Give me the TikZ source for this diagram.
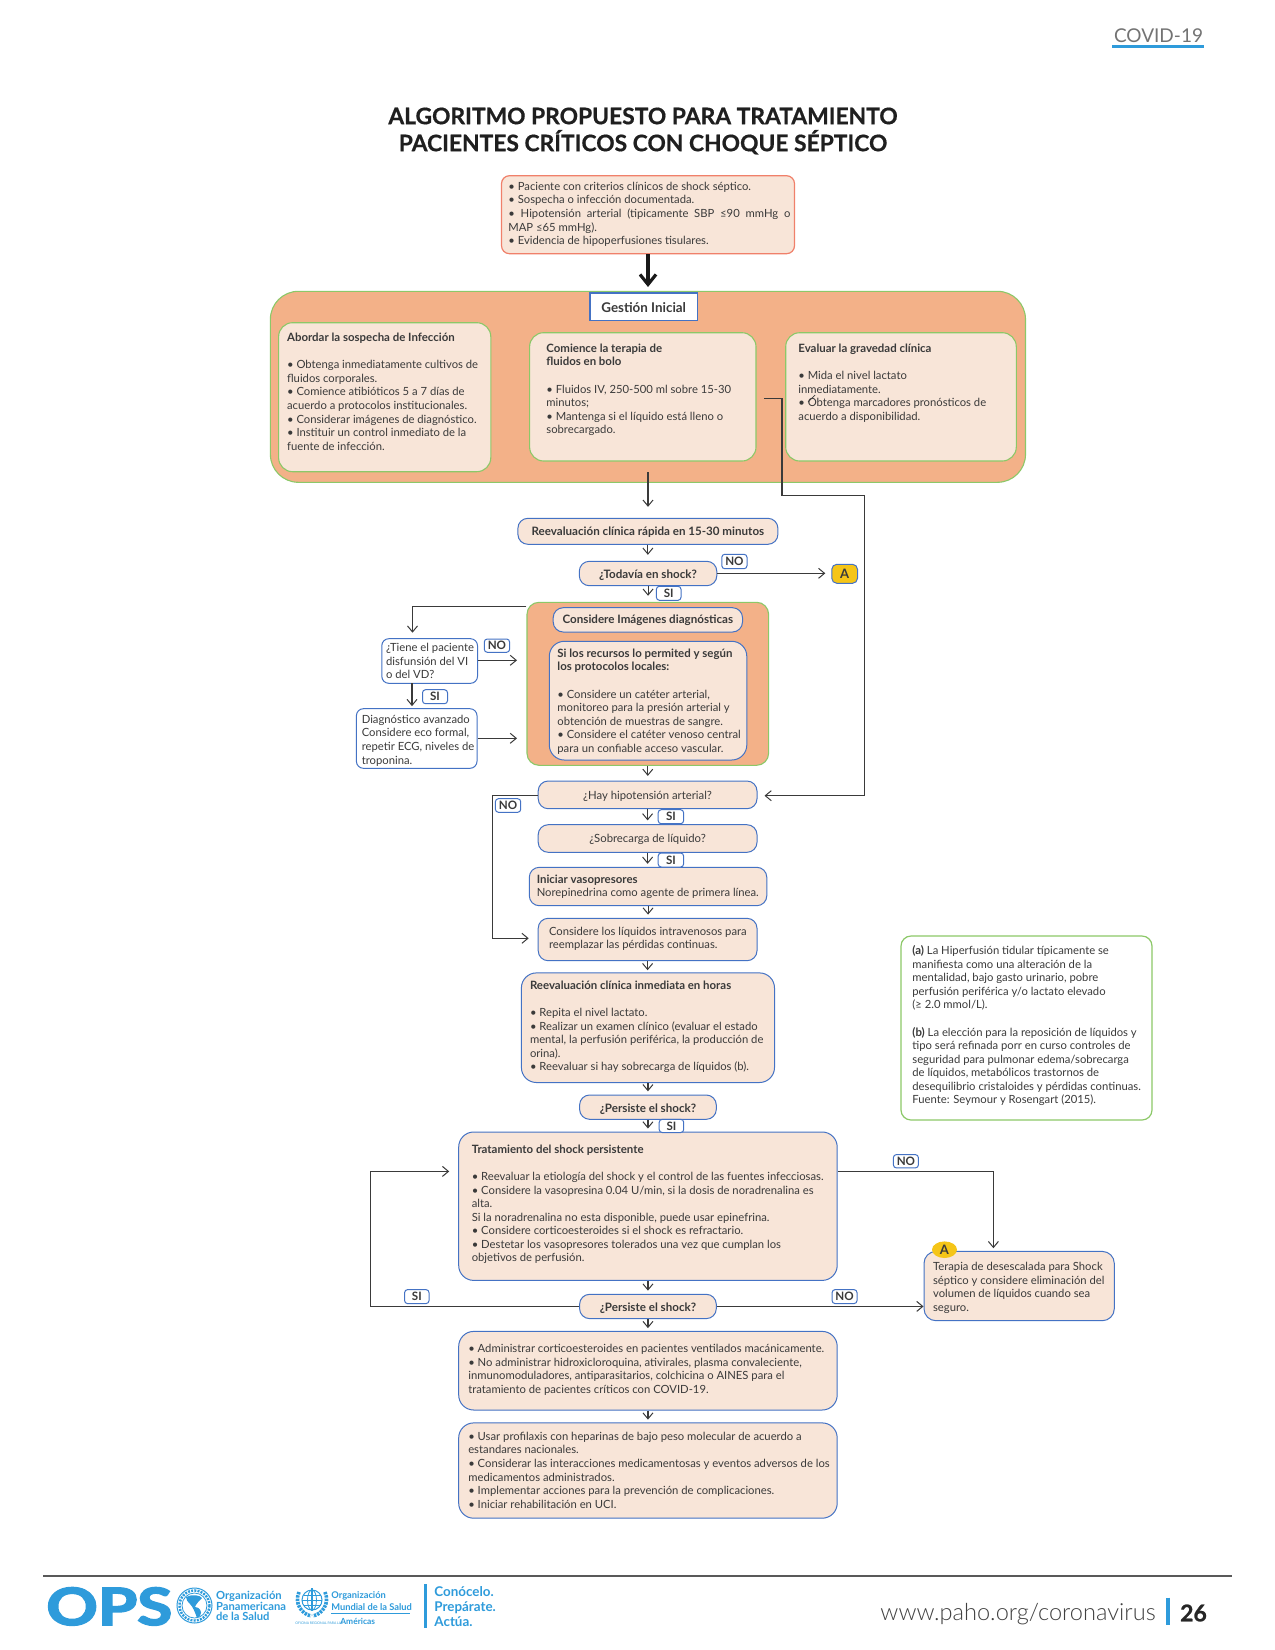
\documentclass[tikz,border=0pt]{standalone}
\usepackage{fontspec}
\usepackage{graphicx}
\setmainfont{Lato}
\newfontfamily\lightfont{Lato Light}
\usetikzlibrary{arrows.meta,shapes.geometric}
\definecolor{peach}{HTML}{F8E5D8}
\definecolor{orng}{HTML}{F3B188}
\definecolor{grn}{HTML}{8CC868}
\definecolor{blu}{HTML}{4472C4}
\definecolor{redb}{HTML}{F0806A}
\definecolor{yel}{HTML}{F5C518}
\definecolor{ink}{HTML}{3A3A3A}
\definecolor{opsb}{HTML}{2E9BDB}
% name, style, x1, y1, x2, y2, text
\newcommand{\bx}[7]{\node[#2,inner sep=0pt,minimum width={(#5-#3)*0.5pt},minimum height={(#6-#4)*0.5pt}] (#1) at ({(#3+#5)/2},{(#4+#6)/2}) {#7};}
% name, x, first baseline, lines
\newcommand{\para}[4]{\node[para] (#1) at (#2,{#3-9.5}) {\strut #4};}
\newcommand{\bt}[1]{{\fontsize{5.72}{6.78}\selectfont\bfseries #1}}
\newcommand{\dn}[2]{\raisebox{-#1}[\height][\depth]{#2}}
\tikzset{
 x=0.5pt,y=-0.5pt,
 box/.style={draw=blu,fill=peach,line width=0.5pt,rounded corners=5pt},
 rbox/.style={box,rounded corners=7.5pt},
 wbox/.style={box,fill=white,rounded corners=3.5pt},
 gbox/.style={draw=grn,fill=peach,line width=0.55pt,rounded corners=7pt},
 obox/.style={draw=grn,fill=orng,line width=0.55pt},
 tag/.style={draw=blu,fill=white,line width=0.5pt,rounded corners=1.5pt,font=\fontsize{5.8}{6.8}\selectfont\bfseries,text=ink,inner sep=0pt},
 para/.style={anchor=north west,inner sep=0pt,align=left,text=ink,font=\fontsize{5.63}{6.78}\selectfont},
 ctr/.style={text=ink,font=\fontsize{5.66}{6.78}\selectfont},
 bctr/.style={ctr,font=\fontsize{5.8}{6.78}\selectfont\bfseries},
 conn/.style={draw=ink,line width=0.55pt,-{Straight Barb[length=3pt,width=5pt,line width=0.5pt]},shorten >=1.6pt},
 foot/.style={inner sep=0pt,anchor=base west,text=opsb,font=\bfseries},
}
\begin{document}
\begin{tikzpicture}
\useasboundingbox (0,0) rectangle (1275,1650);
\fill[white] (0,0) rectangle (1275,1650);
% header
\node[inner sep=0pt,text=black!55,font=\fontsize{9.5}{12}\selectfont] (hdr) at (1158.5,36) {COVID-19};
\draw[opsb,line width=1.35pt] (1112,46.3) -- (1204,46.3);
% title
\node[inner sep=0pt,text=black!88,align=center,font=\fontsize{11.4}{13.5}\selectfont\bfseries\addfontfeature{FakeBold=0.6}] (title) at (643,131) {ALGORITMO PROPUESTO PARA TRATAMIENTO\\PACIENTES CRÍTICOS CON CHOQUE SÉPTICO};
% top
\bx{top}{draw=redb,fill=peach,line width=0.6pt,rounded corners=4pt}{501.5}{175.7}{794.5}{253.7}{}
\para{topt}{508}{190}{• Paciente con criterios clínicos de shock séptico.\\• Sospecha o infección documentada.\\\makebox[141pt][s]{• Hipotensión arterial (tipicamente SBP ≤90 mmHg o}\\MAP ≤65 mmHg).\\• Evidencia de hipoperfusiones tisulares.}
% gestion
\bx{gi}{obox,rounded corners=14pt}{270.4}{291.3}{1025.5}{482.3}{}
\bx{gest}{draw=blu,fill=white,line width=0.7pt,text=ink,font=\fontsize{6.7}{7}\selectfont\bfseries}{590}{293}{697.4}{320.7}{\dn{0.5pt}{Gestión Inicial}}
\draw[line width=2.4pt,black!90,-{Straight Barb[length=5pt,width=8pt,line width=1.6pt]}] (top.south -| 648,0) -- (648,287);
\bx{g1}{gbox}{278.6}{322.7}{490.8}{471.7}{}
\bx{g2}{gbox}{529.6}{332.7}{756}{461}{}
\bx{g3}{gbox}{785.7}{332.7}{1016.3}{461}{}
\para{g1t}{286.7}{341.3}{\bt{Abordar la sospecha de Infección}\\~\\• Obtenga inmediatamente cultivos de\\fluidos corporales.\\• Comience atibióticos 5 a 7 días de\\acuerdo a protocolos institucionales.\\• Considerar imágenes de diagnóstico.\\• Instituir un control inmediato de la\\fuente de infección.}
\para{g2t}{546}{352}{\bt{Comience la terapia de}\\\bt{fluidos en bolo}\\~\\• Fluidos IV, 250-500 ml sobre 15-30\\minutos;\\• Mantenga si el líquido está lleno o\\sobrecargado.}
\para{g3t}{798}{352}{\bt{Evaluar la gravedad clínica}\\~\\• Mida el nivel lactato\\inmediatamente.\\• Obtenga marcadores pronósticos de\\acuerdo a disponibilidad.}
\draw[ink,line width=0.35pt] (808,402) -- (815,395);
% flow
\bx{reev}{box,bctr}{517.9}{518.3}{777.9}{544.3}{\dn{0.4pt}{Reevaluación clínica rápida en 15-30 minutos}}
\bx{tod}{box,bctr}{579.3}{561.3}{716.8}{585.7}{\dn{1pt}{¿Todavía en shock?}}
\bx{a1}{box,fill=yel,rounded corners=2.5pt,text=ink,font=\fontsize{6.5}{7}\selectfont\bfseries}{831.8}{564.3}{857.5}{583.3}{A}
\bx{img}{obox,rounded corners=6pt}{527}{602.3}{768.6}{765.3}{}
\bx{imgh}{box,bctr}{553.2}{607.7}{742.5}{632}{Considere Imágenes diagnósticas}
\bx{imgb}{rbox}{549.3}{641.3}{746.8}{760}{}
\para{imgt}{557}{657}{\bt{Si los recursos lo permited y según}\\\bt{los protocolos locales:}\\~\\• Considere un catéter arterial,\\monitoreo para la presión arterial y\\obtención de muestras de sangre.\\• Considere el catéter venoso central\\para un confiable acceso vascular.}
\bx{tie}{wbox}{381.8}{638.7}{477.5}{683.3}{}
\para{tiet}{385.7}{651.3}{¿Tiene el paciente\\disfunsión del VI\\o del VD?}
\bx{dia}{wbox}{356.4}{708.7}{477}{768.3}{}
\para{diat}{361.4}{723}{Diagnóstico avanzado\\Considere eco formal,\\repetir ECG, niveles de\\troponina.}
\bx{hay}{box,ctr}{538.2}{781}{757}{808.7}{\dn{0.5pt}{¿Hay hipotensión arterial?}}
\bx{sob}{box,ctr}{538.2}{824.7}{757}{852.3}{\dn{0.3pt}{¿Sobrecarga de líquido?}}
\bx{ini}{box}{529.3}{867.3}{766.8}{905.7}{}
\para{init}{536.4}{882.7}{\bt{Iniciar vasopresores}\\Norepinedrina como agente de primera línea.}
\bx{liq}{box}{538.2}{918.3}{757}{960.7}{}
\para{liqt}{548.6}{935}{Considere los líquidos intravenosos para\\reemplazar las pérdidas continuas.}
\bx{rei}{rbox}{521.4}{972.9}{774.5}{1082.5}{}
\para{reit}{529.6}{989}{\bt{Reevaluación clínica inmediata en horas}\\~\\• Repita el nivel lactato.\\• Realizar un examen clínico (evaluar el estado\\mental, la perfusión periférica, la producción de\\orina).\\• Reevaluar si hay sobrecarga de líquidos (b).}
\bx{p1}{box,bctr}{579.6}{1095}{716.3}{1119.3}{\dn{1pt}{¿Persiste el shock?}}
\bx{tra}{rbox}{458.7}{1132}{837.2}{1280.4}{}
\para{trat}{471.4}{1153}{\bt{Tratamiento del shock persistente}\\~\\• Reevaluar la etiología del shock y el control de las fuentes infecciosas.\\• Considere la vasopresina 0.04 U/min, si la dosis de noradrenalina es\\alta.\\Si la noradrenalina no esta disponible, puede usar epinefrina.\\• Considere corticoesteroides si el shock es refractario.\\• Destetar los vasopresores tolerados una vez que cumplan los\\objetivos de perfusión.}
\bx{p2}{box,bctr}{579.6}{1294.3}{716.3}{1318.6}{\dn{1pt}{¿Persiste el shock?}}
\bx{esc}{box,rounded corners=6pt}{924}{1251.4}{1114.3}{1320.7}{}
\para{esct}{932.7}{1270.4}{Terapia de desescalada para Shock\\séptico y considere eliminación del\\volumen de líquidos cuando sea\\seguro.}
\node[fill=yel,ellipse,inner sep=0pt,minimum width=12.5pt,minimum height=8.3pt,text=ink,font=\fontsize{6.5}{7}\selectfont\bfseries] (a2) at (944.5,1249.7) {A};
\bx{adm}{rbox}{458.7}{1331.4}{837.2}{1410}{}
\para{admt}{467.9}{1352.2}{• Administrar corticoesteroides en pacientes ventilados macánicamente.\\• No administrar hidroxicloroquina, ativirales, plasma convaleciente,\\inmunomoduladores, antiparasitarios, colchicina o AINES para el\\tratamiento de pacientes críticos con COVID-19.}
\bx{usa}{rbox}{458.7}{1422.9}{837.2}{1518.2}{}
\para{usat}{467.9}{1440}{• Usar profilaxis con heparinas de bajo peso molecular de acuerdo a\\estandares nacionales.\\• Considerar las interacciones medicamentosas y eventos adversos de los\\medicamentos administrados.\\• Implementar acciones para la prevención de complicaciones.\\• Iniciar rehabilitación en UCI.}
% note
\bx{note}{draw=grn,fill=white,line width=0.6pt,rounded corners=5pt}{901}{936}{1152}{1120}{}
\para{notet}{912}{954.3}{\bt{(a)} La Hiperfusión tidular típicamente se\\manifiesta como una alteración de la\\mentalidad, bajo gasto urinario, pobre\\perfusión periférica y/o lactato elevado\\(≥ 2.0 mmol/L).\\~\\\bt{(b)} La elección para la reposición de líquidos y\\tipo será refinada porr en curso controles de\\seguridad para pulmonar edema/sobrecarga\\de líquidos, metabólicos trastornos de\\desequilibrio cristaloides y pérdidas continuas.\\Fuente: Seymour y Rosengart (2015).}
% tags
\bx{t1}{tag}{721.8}{554.3}{747}{568.7}{NO}
\bx{t2}{tag}{656.4}{586.3}{681}{600.3}{SI}
\bx{t3}{tag}{484.3}{639}{509.6}{652.3}{NO}
\bx{t4}{tag}{422.5}{689.7}{447.5}{703.7}{SI}
\bx{t5}{tag}{495.4}{798.7}{520.7}{812.3}{NO}
\bx{t6}{tag}{658.2}{809.7}{683.6}{823.7}{SI}
\bx{t7}{tag}{658.2}{853}{683.6}{867}{SI}
\bx{t8}{tag}{659.2}{1119.3}{683.7}{1132.5}{SI}
\bx{t9}{tag}{893.4}{1154.6}{918.4}{1167.9}{NO}
\bx{t10}{tag}{404.6}{1289.6}{429}{1303.6}{SI}
\bx{t11}{tag}{832.1}{1289.6}{857}{1303.6}{NO}
% free ends
\coordinate (gs) at (648,472.3);
\coordinate (gm) at (763.8,398.3);
% connectors
\draw[conn,shorten >=5.5pt] (gs) -- (gs |- reev.north);
\draw[conn,shorten >=3pt] (reev.south) -- (reev.south |- tod.north);
\draw[conn,shorten >=3pt] (tod.east |- 0,573.3) -- (a1.west |- 0,573.3);
\draw[conn,shorten >=3pt] (tod.south) -- (tod.south |- img.north);
\draw[conn,shorten >=0pt] (img.north west |- 0,606.7) -- (412.5,606.7) -- (412.5,632.7);
\draw[conn,shorten >=0pt] (tie.east |- 0,660.3) -- (517,660.3);
\draw[conn,shorten >=1.3pt] (412,683.3) -- (412,708.7);
\draw[conn,shorten >=0pt] (dia.east |- 0,738.3) -- (517,738.3);
\draw[conn,shorten >=2.3pt] (img.south) -- (img.south |- hay.north);
\draw[conn,shorten >=1.9pt] (hay.south) -- (sob.north);
\draw[conn,shorten >=1.5pt] (sob.south) -- (sob.south |- ini.north);
\draw[conn,shorten >=1.6pt] (ini.south) -- (ini.south |- liq.north);
\draw[conn,shorten >=1.1pt] (liq.south) -- (liq.south |- rei.north);
\draw[conn,shorten >=1.6pt] (rei.south) -- (rei.south |- p1.north);
\draw[conn,shorten >=1.5pt] (p1.south) -- (p1.south |- tra.north);
\draw[conn,shorten >=1.6pt] (tra.south) -- (tra.south |- p2.north);
\draw[conn,shorten >=1.4pt] (p2.south) -- (p2.south |- adm.north);
\draw[conn,shorten >=1.4pt] (adm.south) -- (adm.south |- usa.north);
\draw[conn,shorten >=4.5pt] (hay.west |- 0,795.7) -- (492.5,795.7) -- (492.5,938.3) -- (liq.west |- 0,938.3);
\draw[conn,shorten >=3.5pt] (gm) -- (782,398.3) -- (782,495.7) -- (864.8,495.7) -- (864.8,795.7) -- (hay.east |- 0,795.7);
\draw[conn,shorten >=1.6pt] (tra.east |- 0,1171.4) -- (993.4,1171.4) -- (993.4,1251.4);
\draw[conn,shorten >=4.5pt] (p2.west |- 0,1306.4) -- (370.4,1306.4) -- (370.4,1171.4) -- (tra.west |- 0,1171.4);
\draw[conn,shorten >=0pt] (p2.east |- 0,1306.4) -- (esc.west |- 0,1306.4);
% footer
\draw[black!65,line width=0.7pt] (43,1576) -- (1232,1576);
\node[foot] (ops) at (46,1625) {\scalebox{1.24}[1]{\fontsize{25.7}{26}\selectfont\addfontfeature{FakeBold=3}OPS}};
\node[foot,font=\fontsize{5.6}{6}\selectfont\bfseries] (o1) at (215.7,1599) {Organización};
\node[foot,font=\fontsize{5.6}{6}\selectfont\bfseries] (o2) at (215.7,1610) {Panamericana};
\node[foot,font=\fontsize{5.6}{6}\selectfont\bfseries] (o3) at (215.7,1620.7) {de la Salud};
\node[foot,font=\fontsize{4.65}{6}\selectfont\bfseries] (w1) at (331,1598) {Organización};
\node[foot,font=\fontsize{4.65}{6}\selectfont\bfseries] (w2) at (331,1610) {Mundial de la Salud};
\draw[opsb,line width=0.4pt] (331,1613) -- (410,1613);
\node[foot,font=\fontsize{4.2}{6}\selectfont\bfseries] (w3) at (340,1624) {Américas};
\node[foot,font=\fontsize{1.7}{3}\selectfont] (w4) at (295,1624) {OFICINA REGIONAL PARA LAS};
\begin{scope}[opsb]
\draw[line width=0.5pt] (194.5,1605.5) circle[radius=17.5];
\draw[line width=1.2pt,dash pattern=on 1pt off 0.6pt] (194.5,1605.5) circle[radius=15];
\draw[line width=0.4pt] (194.5,1605.5) circle[radius=12.5];
\fill (186,1597) .. controls (192,1594) and (200,1595) .. (202,1598) .. controls (199,1601) and (196,1604) .. (195,1607) .. controls (199,1607) and (203,1611) .. (200,1616) -- (197,1618) .. controls (195,1612) and (193,1607) .. (190,1604) .. controls (188,1602) and (186,1600) .. (186,1597) -- cycle;
\draw[line width=0.5pt] (312,1600) circle[radius=10];
\draw[line width=0.4pt] (312,1600) ellipse[x radius=4.5,y radius=10];
\draw[line width=0.4pt] (302,1600) -- (322,1600) (303.5,1595) -- (320.5,1595) (303.5,1605) -- (320.5,1605);
\draw[line width=0.9pt] (312,1588) -- (312,1611);
\draw[line width=1.8pt,dash pattern=on 1.2pt off 0.5pt] (299,1592) .. controls (294,1604) and (302,1614) .. (311,1616);
\draw[line width=1.8pt,dash pattern=on 1.2pt off 0.5pt] (325,1592) .. controls (330,1604) and (322,1614) .. (313,1616);
\end{scope}
\draw[opsb,line width=1.5pt] (425.7,1584) -- (425.7,1628);
\node[foot,font=\fontsize{6.7}{7}\selectfont\bfseries] (c1) at (434,1596) {Conócelo.};
\node[foot,font=\fontsize{6.7}{7}\selectfont\bfseries] (c2) at (434,1611) {Prepárate.};
\node[foot,font=\fontsize{6.7}{7}\selectfont\bfseries] (c3) at (434,1626) {Actúa.};
\node[inner sep=0pt,anchor=base east,text=black!75,font=\fontsize{11.8}{13}\selectfont\lightfont] (web) at (1156,1620) {www.paho.org/coronavirus};
\draw[opsb,line width=2.4pt] (1168,1597.7) -- (1168,1625);
\node[inner sep=0pt,text=black!85,font=\fontsize{11.5}{13}\selectfont\bfseries\addfontfeature{FakeBold=1}] (pg) at (1193.5,1613) {26};
\end{tikzpicture}
\end{document}
